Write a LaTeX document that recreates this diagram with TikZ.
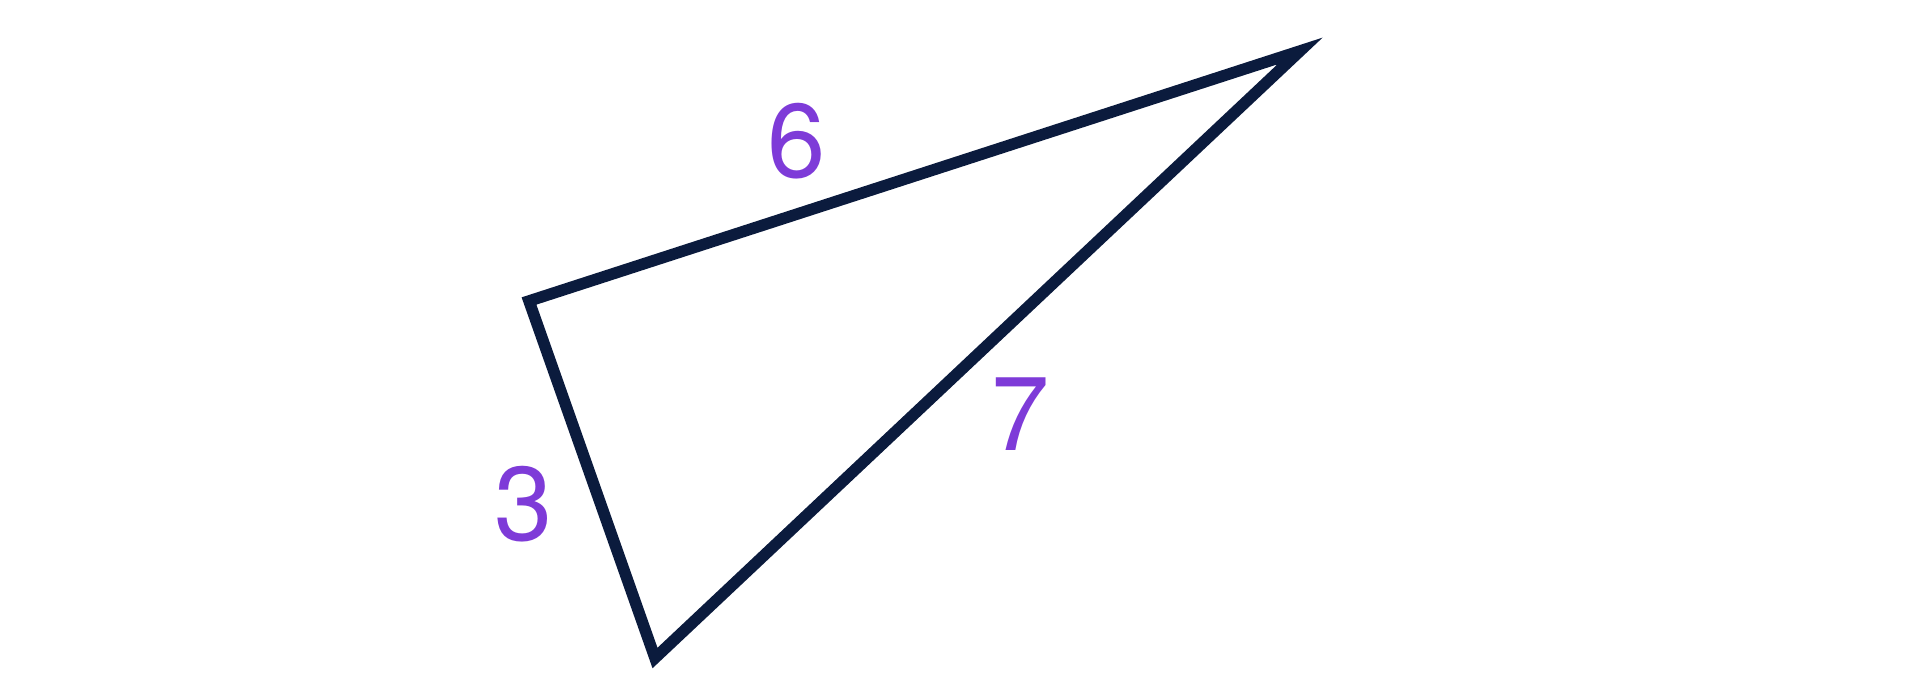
\documentclass[tikz,border=0pt]{standalone}
\usepackage{fontspec}
\setmainfont{TeX Gyre Heros}
\usepackage{tikz}
\usetikzlibrary{positioning}
\definecolor{edgeblue}{HTML}{0B1B3D}
\definecolor{labelpurple}{HTML}{7E3BD8}

\begin{document}
\begin{tikzpicture}[x=0.01cm, y=-0.01cm,
        side/.style={draw=edgeblue, line width=1.15mm, line join=miter},
        len/.style={text=labelpurple, font=\fontsize{29.8}{34}\selectfont, inner sep=0pt}]
        \useasboundingbox (0,0) rectangle (1920,700);
        \coordinate (A) at (529,301);
        \coordinate (B) at (1300,51);
        \coordinate (C) at (655,658);

        \node[len] (lab) at (797,141) {6};
        \node[len] (lbc) at (1021,414) {7};
        \node[len] (lca) at (524,504) {3};

        \path[side] (A) -- (B) -- (C) -- cycle;
    \end{tikzpicture}
\end{document}
